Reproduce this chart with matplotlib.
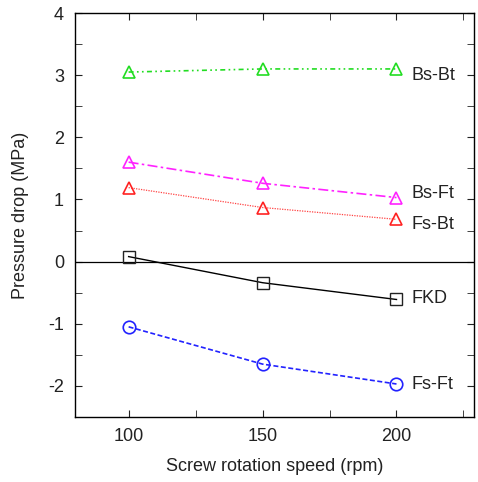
import matplotlib
matplotlib.use('Agg')
import matplotlib.pyplot as plt
from matplotlib.ticker import MultipleLocator

plt.rcParams['font.family'] = ['Liberation Sans', 'DejaVu Sans']
plt.rcParams['axes.unicode_minus'] = False

speed = [100, 150, 200]
names = ["Bs-Bt", "Bs-Ft", "Fs-Bt", "FKD", "Fs-Ft"]
bs_bt = [3.05, 3.10, 3.10]
bs_ft = [1.60, 1.26, 1.03]
fs_bt = [1.19, 0.87, 0.68]
fkd = [0.08, -0.34, -0.61]
fs_ft = [-1.05, -1.65, -1.97]
label_y = [3.0, 1.1, 0.6, -0.6, -1.98]

fig = plt.figure(figsize=(4.78, 4.82), dpi=100)
ax = fig.add_axes([0.157, 0.135, 0.835, 0.838])

ax.axhline(0, color='k', lw=0.9)
ax.plot(speed, bs_bt, color='#22dd22', ls=(0, (3, 2, 1, 2, 1, 2)), lw=1.2,
        marker='^', ms=9, mfc='none', mec='#22dd22', mew=1.2)
ax.plot(speed, bs_ft, color='#ff22ff', ls=(0, (6, 2, 1.5, 2)), lw=1.2,
        marker='^', ms=9, mfc='none', mec='#ff22ff', mew=1.2)
ax.plot(speed, fs_bt, color='#ff4444', ls=(0, (1, 1)), lw=0.9,
        marker='^', ms=9, mfc='none', mec='#ff2222', mew=1.2)
ax.plot(speed, fkd, color='k', ls='-', lw=1.0,
        marker='s', ms=9, mfc='none', mec='#222222', mew=1.0)
ax.plot(speed, fs_ft, color='#2222ff', ls=(0, (3, 1.5)), lw=1.2,
        marker='o', ms=9, mfc='none', mec='#2222ff', mew=1.2)

for n, y in zip(names, label_y):
    ax.text(205.5, y, n, fontsize=13, va='center', ha='left', color='#222222')

ax.set_xlim(80, 229)
ax.set_ylim(-2.5, 4)
ax.set_xticks(speed)
ax.xaxis.set_minor_locator(MultipleLocator(25))
ax.yaxis.set_major_locator(MultipleLocator(1))
ax.yaxis.set_minor_locator(MultipleLocator(0.5))
ax.tick_params(which='both', direction='in', top=True, right=True, labelsize=13,
               colors='#222222')
ax.tick_params(which='major', length=5, pad=8)
ax.tick_params(which='minor', length=5)
for s in ax.spines.values():
    s.set_linewidth(1.0)

ax.set_xlabel("Screw rotation speed (rpm)", fontsize=13, labelpad=9, color='#222222')
ax.set_ylabel("Pressure drop (MPa)", fontsize=13, labelpad=14, color='#222222')

fig.savefig("out.png", dpi=100)
